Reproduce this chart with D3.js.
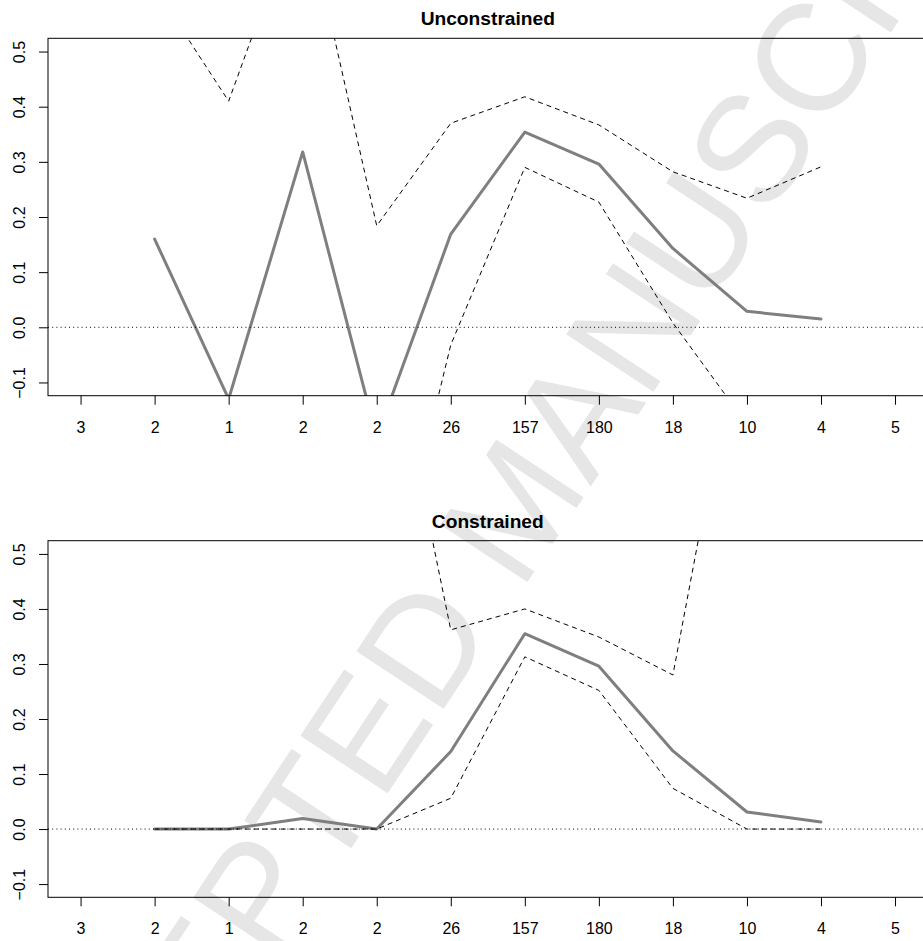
<!DOCTYPE html>
<html><head><meta charset="utf-8">
<script src="https://cdn.jsdelivr.net/npm/d3@7"></script>
<style>body{margin:0;background:#fff;} svg{display:block;}</style>
</head><body>
<svg id="chart" width="923" height="941"></svg>
<script>
// ---- data ----
const positions = [1,2,3,4,5,6,7,8,9,10,11,12];
const tickLabels = ["3","2","1","2","2","26","157","180","18","10","4","5"];
const yTicks = [-0.1,0.0,0.1,0.2,0.3,0.4,0.5];

const unconstrainedEst   = [null, 0.160, -0.130, 0.318, -0.200, 0.169, 0.354, 0.296, 0.143, 0.029, 0.015, null];
const unconstrainedUpper = [null, 0.616,  0.410, 0.780,  0.184, 0.370, 0.418, 0.367, 0.282, 0.234, 0.291, null];
const unconstrainedLower = [null,-0.296, -0.670,-0.144, -0.584,-0.032, 0.290, 0.227, 0.008,-0.176,-0.262, null];

const constrainedEst   = [null, 0.000, 0.000, 0.019, 0.000, 0.141, 0.355, 0.296, 0.142, 0.031, 0.013, null];
const constrainedUpper = [null, 1.000, 1.000, 1.000, 1.020, 0.362, 0.400, 0.349, 0.280, 0.994, 1.000, null];
const constrainedLower = [null, 0.000, 0.000, 0.000, 0.000, 0.056, 0.313, 0.252, 0.074, 0.000, 0.000, null];

const titles = ["Unconstrained", "Constrained"];
const watermark = "ACCEPTED MANUSCRIPT";

// ---- drawing ----
const svg = d3.select("#chart");
const FONT = "'Liberation Sans', Arial, Helvetica, sans-serif";

svg.append("text")
  .attr("transform", "translate(40.4,1317.8) rotate(-56.5)")
  .attr("font-family", FONT)
  .attr("font-size", 152)
  .attr("fill", "#e6e6e6")
  .text(watermark);

const left = 48, right = 927.6;
const x = d3.scaleLinear().domain([0.56, 12.44]).range([left, right]);

function panel(idx, top, bottom, title, est, upper, lower) {
  const y = d3.scaleLinear().domain([-0.124, 0.524]).range([bottom, top]);
  const g = svg.append("g");
  const clipId = "clip" + idx;
  svg.append("defs").append("clipPath").attr("id", clipId)
    .append("rect").attr("x", left).attr("y", top).attr("width", right - left).attr("height", bottom - top);

  const line = d3.line().defined(d => d != null)
    .x((d, i) => x(positions[i])).y(d => y(d));

  const plot = g.append("g").attr("clip-path", `url(#${clipId})`);
  plot.append("path").datum(est).attr("d", line)
    .attr("fill", "none").attr("stroke", "#7f7f7f").attr("stroke-width", 3)
    .attr("stroke-linejoin", "round").attr("stroke-linecap", "round");
  [upper, lower].forEach(s => {
    plot.append("path").datum(s).attr("d", line)
      .attr("fill", "none").attr("stroke", "#000").attr("stroke-width", 1)
      .attr("stroke-dasharray", "5,4");
  });
  plot.append("line").attr("x1", left).attr("x2", right).attr("y1", y(0)).attr("y2", y(0))
    .attr("stroke", "#000").attr("stroke-width", 1).attr("stroke-dasharray", "1,3.2");

  g.append("rect").attr("x", left).attr("y", top).attr("width", right - left).attr("height", bottom - top)
    .attr("fill", "none").attr("stroke", "#000").attr("stroke-width", 1);

  const xa = g.append("g").attr("transform", `translate(0,${bottom})`)
    .call(d3.axisBottom(x).tickValues(positions).tickFormat((d, i) => tickLabels[i])
      .tickSize(9).tickPadding(16.6));
  xa.select(".domain").remove();
  xa.selectAll("text").attr("font-family", FONT).attr("font-size", 16).attr("fill", "#000");
  xa.selectAll("line").attr("stroke", "#000");

  const ya = g.append("g").attr("transform", `translate(${left},0)`)
    .call(d3.axisLeft(y).tickValues(yTicks).tickFormat(d3.format(".1f")).tickSize(9));
  ya.select(".domain").remove();
  ya.selectAll("line").attr("stroke", "#000");
  ya.selectAll("text").attr("x", 0).attr("dy", 0)
    .attr("transform", "translate(-23,0) rotate(-90)")
    .attr("text-anchor", "middle")
    .attr("font-family", FONT).attr("font-size", 16).attr("fill", "#000");

  g.append("text").attr("x", (left + right) / 2).attr("y", top - 13)
    .attr("text-anchor", "middle").attr("font-family", FONT)
    .attr("font-weight", "bold").attr("font-size", 19.2).text(title);
}

panel(0, 38.3, 395.7, titles[0], unconstrainedEst, unconstrainedUpper, unconstrainedLower);
panel(1, 540.7, 897.3, titles[1], constrainedEst, constrainedUpper, constrainedLower);
</script>
</body></html>
